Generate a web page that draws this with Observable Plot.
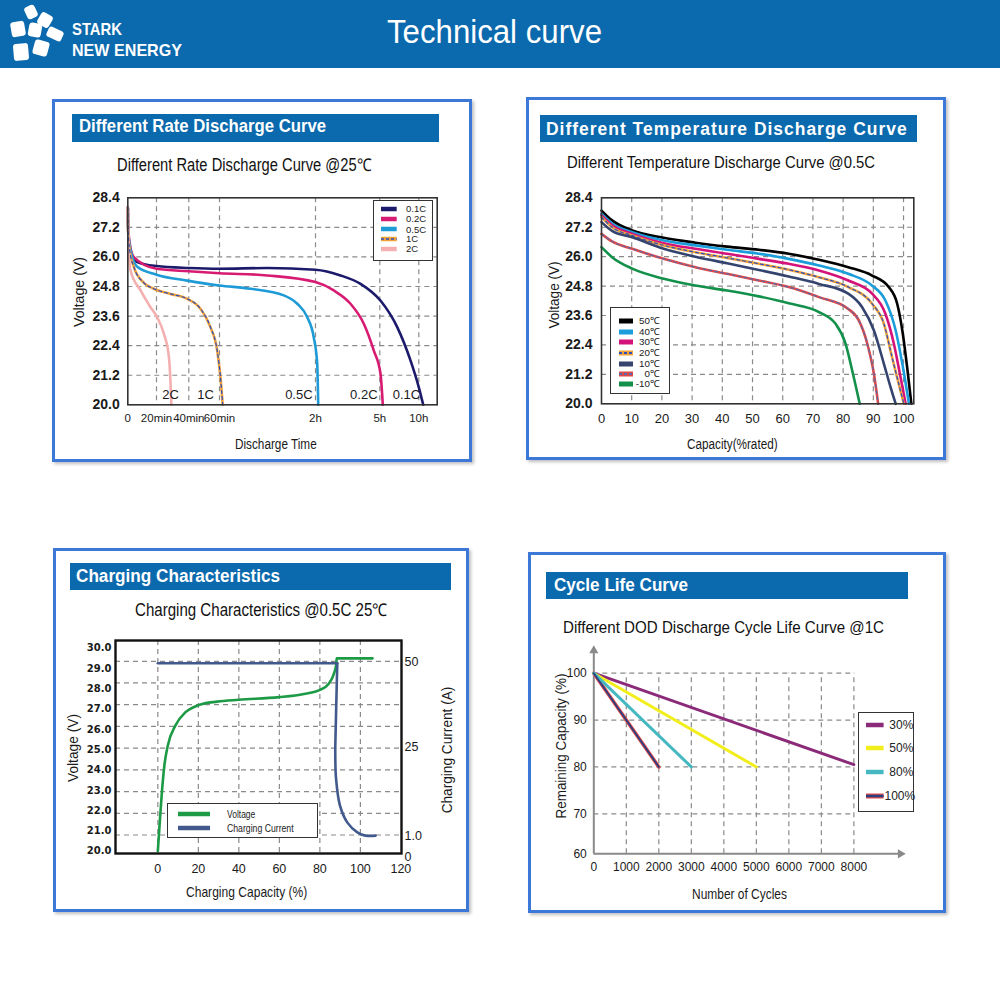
<!DOCTYPE html>
<html><head><meta charset="utf-8">
<script src="https://cdn.jsdelivr.net/npm/d3@7"></script>
<script src="https://cdn.jsdelivr.net/npm/@observablehq/plot@0.6"></script>
<style>
html,body{margin:0;padding:0;background:#fff;}
#page{position:relative;width:1000px;height:1000px;overflow:hidden;font-family:"Liberation Sans",Arial,sans-serif;}
.panel{position:absolute;border:3px solid #3b78d8;box-sizing:border-box;box-shadow:2px 2px 3px rgba(0,0,0,0.25);background:#fff;}
.bar{position:absolute;background:#0b69ad;}
.txt{position:absolute;white-space:nowrap;line-height:1;transform-origin:0 0;}
.legend{position:absolute;background:#fff;border:1.5px solid #333;box-sizing:border-box;}
</style></head><body><div id="page"></div>
<script>
// ---------------- DATA ----------------
// Panel 1: different rate discharge (x = minutes, y = volts)
const rateSeries = ["0.1C","0.2C","0.5C","1C","2C"];
const rate01_min = [0,0.3,1.5,6.6,20,40,60,89.8,120,190,246,305,434,536,600,634];
const rate01_V   = [28.0,27.0,26.3,25.79,25.63,25.55,25.52,25.55,25.48,25.25,24.91,24.23,23.15,21.80,20.71,20.0];
const rate02_min = [0,0.3,1.5,4.2,20,40,60,89.8,120,171.2,218,255.2,283.2,305.4,323];
const rate02_V   = [28.0,27.2,26.5,25.99,25.52,25.42,25.34,25.25,24.98,24.64,24.10,23.29,22.20,21.26,20.0];
const rate05_min = [0,0.3,1.5,6.6,20,39,60,79.4,100.2,108.6,114.8,118.9,124.8,127.6];
const rate05_V   = [28.0,27.1,26.4,25.6,25.28,25.04,24.84,24.71,24.44,24.10,23.56,22.74,21.66,20.0];
const rate1_min  = [0,0.3,1.5,4.2,11.2,18.1,28.7,39,47.6,54.1,58.5,60.6,62.0];
const rate1_V    = [28.0,27.0,26.2,25.6,24.95,24.71,24.5,24.3,23.9,23.15,22.2,21.12,20.0];
const rate2_min  = [0,0.3,1.9,8.9,15.8,20.4,24.6,27.7,28.7,29.2];
const rate2_V    = [28.0,26.9,25.45,24.64,23.96,23.55,22.88,21.93,20.85,20.0];
const rateTickMin = [0,20,40,60,120,300,600];
const rateTickLabels = ["0","20min","40min","60min","2h","5h","10h"];
const rateEndLabels = ["2C","1C","0.5C","0.2C","0.1C"];
const rateEndMin = [28.7,50.9,109.6,255.2,505];
const voltTicks = [20.0,21.2,22.4,23.6,24.8,26.0,27.2,28.4];

// Panel 2: different temperature discharge (x = % rated capacity, y = volts)
const tempSeries = ["50℃","40℃","30℃","20℃","10℃","0℃","-10℃"];
const t50_x = [0,3.5,10.2,20.6,31.1,41.6,52.1,62.0,72.0,81.7,89.6,95.1,97.9,99.6,101.2,102.6];
const t50_V = [27.88,27.48,27.07,26.77,26.57,26.41,26.28,26.12,25.87,25.57,25.23,24.76,24.08,22.99,21.49,20.0];
const t40_x = [0,3.5,10.2,20.6,31.1,41.6,52.1,62.0,72.0,81.7,89.6,94.0,97.4,99.6,101.8];
const t40_V = [27.75,27.35,27.0,26.66,26.46,26.28,26.12,25.91,25.64,25.30,24.82,24.21,22.99,21.63,20.0];
const t30_x = [0,3.5,10.2,20.6,31.1,41.6,52.1,62.0,72.0,81.7,89.6,94.0,96.8,99.0,100.7];
const t30_V = [27.68,27.28,26.93,26.55,26.32,26.12,25.91,25.71,25.44,25.03,24.49,23.67,22.45,21.09,20.0];
const t20_x = [0,3.5,10.2,20.6,31.1,41.6,52.1,62.0,72.0,81.7,89.6,93.5,96.2,98.4,100.1];
const t20_V = [27.61,27.2,26.86,26.46,26.18,25.95,25.71,25.47,25.16,24.76,24.08,23.26,21.90,20.82,20.0];
const t10_x = [0,3.5,10.2,20.6,31.1,41.6,52.1,62.0,72.0,81.7,86.3,90.2,93.5,95.7,97.4];
const t10_V = [27.41,27.05,26.79,26.32,26.0,25.73,25.46,25.19,24.89,24.49,23.94,22.99,21.63,20.68,20.0];
const t0_x  = [0,3.5,10.2,20.6,31.1,41.6,52.1,62.0,72.0,81.7,85.2,88.0,90.2,91.6];
const t0_V  = [26.93,26.62,26.32,25.91,25.57,25.30,25.03,24.76,24.35,23.87,23.40,22.45,21.22,20.0];
const tm10_x = [0,3.5,10.2,20.6,31.1,41.6,52.1,62.0,72.0,77.5,80.8,83.0,85.5];
const tm10_V = [26.39,25.98,25.51,25.10,24.82,24.62,24.38,24.10,23.74,23.26,22.45,21.36,20.0];
const capTicks = [0,10,20,30,40,50,60,70,80,90,100];

// Panel 3: charging characteristics
const chargeCap  = [0,1.0,2.0,3.2,4.9,8.7,13.7,20.2,29.3,40,59.8,72.1,80,84.4,86.9,88.1,88.3,106];
const chargeVolt = [20.0,21.5,22.9,24.2,25.2,26.2,26.85,27.2,27.37,27.46,27.59,27.75,27.95,28.25,28.74,29.23,29.5,29.5];
const currentFlatCap = [0,88.6];
const currentFlatA   = [49.5,49.5];
const currentDropCap = [88.6,88.2,87.8,87.6,88.0,89.9,93.5,98.5,102.6,107.5];
const currentDropA   = [49.5,40,30,23.6,16.4,9.2,4.6,1.9,1.0,1.0];
const chargeVoltTicks = [20,21,22,23,24,25,26,27,28,29,30];
const chargeCapTicks = [0,20,40,60,80,100,120];
const currentTicks = [0,1,25,50];
const currentTickLabels = ["0","1.0","25","50"];
const currentAxisVolt = [19.74,20.77,25.12,29.345];   // where the current axis sits against the voltage axis
const chargeGridVolt = [20.8,21.87,22.94,24.01,25.08,26.15,27.22,28.29,29.35];

// Panel 4: cycle life
const dodSeries = ["30%","50%","80%","100%"];
const dodCycles = [[0,8000],[0,5000],[0,3000],[0,2000]];
const dodCapacity = [[100,80.5],[100,80],[100,80],[100,80]];
const cycleTicks = [0,1000,2000,3000,4000,5000,6000,7000,8000];
const remainTicks = [60,70,80,90,100];

// ---------------- HELPERS ----------------
const page = document.getElementById("page");
const FONT = "'Liberation Sans', Arial, sans-serif";
function div(cls, x0, y0, x1, y1, style = {}) {
  const d = document.createElement("div"); d.className = cls;
  Object.assign(d.style, {left: x0 + "px", top: y0 + "px", width: (x1 - x0) + "px", height: (y1 - y0) + "px"}, style);
  page.appendChild(d); return d;
}
function text(str, o) {
  const d = document.createElement("div"); d.className = "txt"; d.textContent = str;
  d.style.fontSize = o.size + "px";
  if (o.bold) d.style.fontWeight = "bold";
  if (o.ls) d.style.letterSpacing = o.ls;
  if (o.family) d.style.fontFamily = o.family;
  d.style.color = o.color || "#111";
  d.style.top = (o.base - 0.8465 * o.size) + "px";
  page.appendChild(d);
  const w = d.getBoundingClientRect().width;
  if (o.x1 !== undefined) { d.style.left = o.x + "px"; d.style.transform = `scaleX(${(o.x1 - o.x) / w})`; }
  else d.style.left = (o.anchor === "end" ? o.x - w : o.anchor === "middle" ? o.x - w / 2 : o.x) + "px";
  return d;
}
function vtext(str, cx, cy, len, size, color = "#1a1a1a") {
  const d = document.createElement("div"); d.className = "txt"; d.textContent = str;
  d.style.fontSize = size + "px"; d.style.color = color;
  d.style.left = cx + "px"; d.style.top = cy + "px";
  page.appendChild(d);
  const w = d.getBoundingClientRect().width;
  d.style.transform = `rotate(-90deg) scaleX(${len / w}) translate(-50%,-50%)`;
}
function swatch(x0, x1, y, layers) {
  const ns = "http://www.w3.org/2000/svg";
  const s = document.createElementNS(ns, "svg");
  s.setAttribute("width", x1 - x0 + 4); s.setAttribute("height", 12);
  Object.assign(s.style, {position: "absolute", left: (x0 - 2) + "px", top: (y - 6) + "px"});
  for (const l of layers) {
    const ln = document.createElementNS(ns, "line");
    ln.setAttribute("x1", 2); ln.setAttribute("x2", x1 - x0 + 2); ln.setAttribute("y1", 6); ln.setAttribute("y2", 6);
    ln.setAttribute("stroke", l.c); ln.setAttribute("stroke-width", l.w);
    if (l.dash) ln.setAttribute("stroke-dasharray", l.dash);
    s.appendChild(ln);
  }
  page.appendChild(s);
}
function place(svg, L, T) {
  Object.assign(svg.style, {position: "absolute", left: L + "px", top: T + "px", maxWidth: "none"});
  page.appendChild(svg);
}
const rows = (xs, ys) => xs.map((x, i) => ({x, y: ys[i]}));
const grid = {stroke: "#8a8a8a", strokeDasharray: "5,4", strokeWidth: 1.2};

// ---------------- HEADER ----------------
div("bar", 0, 0, 1000, 68, {background: "#0b69ad"});
(function logo() {
  const ns = "http://www.w3.org/2000/svg";
  const s = document.createElementNS(ns, "svg");
  s.setAttribute("width", 70); s.setAttribute("height", 68);
  Object.assign(s.style, {position: "absolute", left: "0px", top: "0px"});
  const tiles = [[31,12,11,13,-25],[45,20,13,13,30],[18,29,14,15,-10],[35,30,13,14,10],[55,34,16,11,25],[21,52,15,17,-5],[41,48,15,15,15]];
  for (const [cx, cy, w, h, r] of tiles) {
    const e = document.createElementNS(ns, "rect");
    e.setAttribute("x", cx - w / 2); e.setAttribute("y", cy - h / 2); e.setAttribute("width", w); e.setAttribute("height", h);
    e.setAttribute("rx", 3); e.setAttribute("fill", "#fff");
    e.setAttribute("transform", `rotate(${r} ${cx} ${cy})`);
    s.appendChild(e);
  }
  page.appendChild(s);
})();
text("STARK", {x: 71.7, x1: 121.7, base: 35, size: 17, bold: true, color: "#fff"});
text("NEW ENERGY", {x: 71.7, x1: 181.7, base: 56, size: 17, bold: true, color: "#fff"});
text("Technical curve", {x: 386.7, x1: 601.7, base: 43.3, size: 33, color: "#fff"});

// ---------------- PANEL FRAMES ----------------
div("panel", 52, 99, 472, 462);
div("panel", 526, 97, 946, 460);
div("panel", 53, 548, 469, 912);
div("panel", 528, 552, 946, 913);
div("bar", 72, 114, 439, 141.7);
div("bar", 540, 115, 917, 142);
div("bar", 70, 563, 451, 590);
div("bar", 546, 572, 908, 599);
text("Different Rate Discharge Curve", {x: 79, x1: 326, base: 133.3, size: 17.5, bold: true, color: "#fff"});
text("Different Temperature Discharge Curve", {x: 545.7, x1: 907.3, base: 135.7, size: 17.5, bold: true, color: "#fff", ls: "1px"});
text("Charging Characteristics", {x: 76, x1: 280, base: 583.3, size: 17.5, bold: true, color: "#fff"});
text("Cycle Life Curve", {x: 554.3, x1: 688.3, base: 591.7, size: 17.5, bold: true, color: "#fff"});
text("Different Rate Discharge Curve @25℃", {x: 117, x1: 371, base: 171.7, size: 17.5});
text("Different Temperature Discharge Curve @0.5C", {x: 567, x1: 875, base: 167.7, size: 16.5});
text("Charging Characteristics @0.5C 25℃", {x: 135, x1: 387, base: 616.7, size: 17.5});
text("Different DOD Discharge Cycle Life Curve @1C", {x: 563, x1: 884, base: 633.3, size: 17});

// axis titles
vtext("Voltage (V)", 79.3, 291.7, 70, 14);
text("Discharge Time", {x: 235, x1: 316.7, base: 449.3, size: 14, color: "#1a1a1a"});
vtext("Voltage (V)", 554.3, 295, 67, 14);
text("Capacity(%rated)", {x: 686.7, x1: 777.3, base: 449.3, size: 14, color: "#1a1a1a"});
vtext("Voltage (V)", 71.7, 747.5, 68, 15);
vtext("Charging Current (A)", 446, 750, 126.7, 15);
text("Charging Capacity (%)", {x: 186, x1: 307.3, base: 896.7, size: 15, color: "#1a1a1a"});
vtext("Remaining Capacity (%)", 560, 745.8, 145, 15);
text("Number of Cycles", {x: 691.7, x1: 786.7, base: 899.3, size: 14, color: "#1a1a1a"});

// ---------------- PANEL 1 ----------------
const rateData = [[rate01_min, rate01_V],[rate02_min, rate02_V],[rate05_min, rate05_V],[rate1_min, rate1_V],[rate2_min, rate2_V]];
const rateColors = ["#1c1a6b","#d81b72","#1e9bd7","#f2a23a","#f4b0b0"];
const rateTickMap = new Map(rateTickMin.map((m, i) => [m, rateTickLabels[i]]));
const plot1 = Plot.plot({
  width: 420, height: 275,
  marginLeft: 75.3, marginRight: 35.3, marginTop: 12.3, marginBottom: 55.7,
  style: {background: "transparent", fontFamily: FONT, color: "#1a1a1a", overflow: "visible"},
  x: {type: "linear", domain: [0,20,40,60,120,300,600,741], range: [75.3,104,136.3,167,263,327.3,366.3,384.7]},
  y: {domain: [20, 28.4]},
  marks: [
    Plot.ruleX(rateTickMin.slice(1), grid),
    Plot.ruleY(voltTicks.slice(1, -1), grid),
    ...rateData.map(([xs, ys], i) => Plot.line(rows(xs, ys), {x: "x", y: "y", stroke: rateColors[i], strokeWidth: 2.6, curve: "monotone-x"})),
    Plot.line(rows(rate1_min, rate1_V), {x: "x", y: "y", stroke: "#2f4fbf", strokeWidth: 1.2, strokeDasharray: "3,3", curve: "monotone-x"}),
    Plot.frame({stroke: "#333", strokeWidth: 1.6}),
    Plot.axisX({ticks: rateTickMin, tickSize: 0, tickPadding: 9, fontSize: 11.5, tickFormat: d => rateTickMap.get(d), label: null}),
    Plot.axisY({ticks: voltTicks, tickSize: 0, tickPadding: 8, fontSize: 14, fontWeight: "bold", tickFormat: d => d.toFixed(1), label: null}),
    Plot.text(rateEndLabels, {x: rateEndMin, text: d => d, frameAnchor: "bottom", dy: -6, fontSize: 13})
  ]
});
place(plot1, 52, 185);

// ---------------- PANEL 2 ----------------
const tempData = [[t50_x,t50_V],[t40_x,t40_V],[t30_x,t30_V],[t20_x,t20_V],[t10_x,t10_V],[t0_x,t0_V],[tm10_x,tm10_V]];
const tempColors = ["#000000","#1b9ddb","#d3137a","#f2a23a","#34446f","#e04848","#13914a"];
const tempDash = [null,null,null,"#2f4fbf",null,"#5a6aa8",null];
const plot2 = Plot.plot({
  width: 420, height: 275,
  marginLeft: 75, marginRight: 32.7, marginTop: 12.3, marginBottom: 56.7,
  style: {background: "transparent", fontFamily: FONT, color: "#1a1a1a", overflow: "visible"},
  x: {domain: [0, 103.4]},
  y: {domain: [20, 28.4]},
  marks: [
    Plot.ruleX(capTicks.slice(1), grid),
    Plot.ruleY(voltTicks.slice(1, -1), grid),
    ...tempData.flatMap(([xs, ys], i) => {
      const m = [Plot.line(rows(xs, ys), {x: "x", y: "y", stroke: tempColors[i], strokeWidth: 2.6, curve: "monotone-x"})];
      if (tempDash[i]) m.push(Plot.line(rows(xs, ys), {x: "x", y: "y", stroke: tempDash[i], strokeWidth: 1.2, strokeDasharray: "3,3", curve: "monotone-x"}));
      return m;
    }),
    Plot.frame({stroke: "#333", strokeWidth: 1.6}),
    Plot.axisX({ticks: capTicks, tickSize: 0, tickPadding: 10, fontSize: 13, tickFormat: d => String(d), label: null}),
    Plot.axisY({ticks: voltTicks, tickSize: 0, tickPadding: 9, fontSize: 14, fontWeight: "bold", tickFormat: d => d.toFixed(1), label: null})
  ]
});
place(plot2, 526, 185);

// ---------------- PANEL 3 ----------------
const c2v = d3.scaleLinear().domain(currentTicks).range(currentAxisVolt);
const currentTickMap = new Map(currentTicks.map((c, i) => [c2v(c), currentTickLabels[i]]));
const plot3 = Plot.plot({
  width: 416, height: 280,
  marginLeft: 62, marginRight: 68, marginTop: 10, marginBottom: 57,
  style: {background: "transparent", fontFamily: FONT, color: "#1a1a1a", overflow: "visible"},
  x: {domain: [-20.9, 120.3]},
  y: {domain: [19.89, 30.38]},
  marks: [
    Plot.ruleX(chargeCapTicks.slice(0, -1), grid),
    Plot.ruleY(chargeGridVolt, grid),
    Plot.line(rows(chargeCap, chargeVolt), {x: "x", y: "y", stroke: "#1d9a46", strokeWidth: 2.6, curve: "monotone-x"}),
    Plot.line(rows(currentFlatCap, currentFlatA.map(c2v)), {x: "x", y: "y", stroke: "#41598c", strokeWidth: 2.6}),
    Plot.line(rows(currentDropCap, currentDropA.map(c2v)), {x: "x", y: "y", stroke: "#41598c", strokeWidth: 2.6, curve: "catmull-rom"}),
    Plot.frame({stroke: "#111", strokeWidth: 2.4}),
    Plot.axisX({ticks: chargeCapTicks, tickSize: 0, tickPadding: 11, fontSize: 12.5, tickFormat: d => String(d), label: null}),
    Plot.axisY({ticks: chargeVoltTicks, tickSize: 0, tickPadding: 4, fontSize: 10, fontWeight: "bold", fontFamily: "'DejaVu Sans', sans-serif", tickFormat: d => d.toFixed(1), label: null}),
    Plot.axisY({anchor: "right", ticks: currentTicks.map(c2v), tickSize: 0, tickPadding: 3, fontSize: 12.5, tickFormat: d => currentTickMap.get(d), label: null})
  ]
});
place(plot3, 53, 630);

// ---------------- PANEL 4 ----------------
const dodColors = ["#8a2a78","#f2ee1c","#45b8c2","#2a3f80"];
const axisGray = "#8a8a8a";
const plot4 = Plot.plot({
  width: 418, height: 270,
  marginLeft: 65.3, marginRight: 41, marginTop: 5, marginBottom: 56.7,
  style: {background: "transparent", fontFamily: FONT, color: "#1a1a1a", overflow: "visible"},
  x: {domain: [0, 9588]},
  y: {type: "linear", domain: [60, 70, 100, 105.9], range: [213.3, 173.3, 32.7, 5]},
  marks: [
    Plot.ruleY(remainTicks.slice(1), {x1: 0, x2: 8000, ...grid}),
    Plot.ruleX(cycleTicks.slice(1), {y1: 60, y2: 100, ...grid}),
    Plot.ruleX([0], {y1: 60, y2: 104.5, stroke: axisGray, strokeWidth: 2}),
    Plot.ruleY([60], {x1: 0, x2: 9400, stroke: axisGray, strokeWidth: 2}),
    Plot.dot([0], {x: d => d, y: 105.9, dy: 5, symbol: "triangle", r: 3.4, fill: axisGray, stroke: "none"}),
    Plot.dot([9588], {x: d => d, y: 60, dx: -5, symbol: "triangle", rotate: 90, r: 3.4, fill: axisGray, stroke: "none"}),
    Plot.line(rows(dodCycles[3], dodCapacity[3]), {x: "x", y: "y", stroke: "#e04848", strokeWidth: 3.6}),
    ...dodCycles.map((xs, i) => Plot.line(rows(xs, dodCapacity[i]), {x: "x", y: "y", stroke: dodColors[i], strokeWidth: i === 3 ? 1.8 : 3})),
    Plot.axisX({ticks: cycleTicks, tickSize: 0, tickPadding: 9, fontSize: 12, tickFormat: d => String(d), label: null}),
    Plot.axisY({ticks: remainTicks, tickSize: 0, tickPadding: 7, fontSize: 12, tickFormat: d => String(d), label: null})
  ]
});
place(plot4, 528, 640);

// ---------------- LEGENDS ----------------
div("legend", 372.7, 200, 432.7, 260.7);
const p1LegY = [208.7, 219, 229.3, 239, 248.7];
rateSeries.forEach((s, i) => {
  const layers = [{c: rateColors[i], w: 4.5}];
  if (s === "1C") layers.push({c: "#2f4fbf", w: 1.5, dash: "3,2"});
  swatch(381, 396.7, p1LegY[i], layers);
  text(s, {x: 406, base: p1LegY[i] + 3.3, size: 9.5, color: "#222"});
});
div("legend", 610, 306.7, 670, 394);
const p2LegY = [320.7, 331.7, 342.3, 353.3, 364, 374, 384];
tempSeries.forEach((s, i) => {
  const layers = [{c: tempColors[i], w: 5}];
  if (tempDash[i]) layers.push({c: tempDash[i], w: 1.8, dash: "3,2"});
  swatch(619.3, 633.3, p2LegY[i], layers);
  text(s, {x: 660, base: p2LegY[i] + 3.4, size: 9.8, color: "#222", anchor: "end"});
});
div("legend", 167.3, 803.3, 318.3, 838.3);
swatch(178, 210, 814, [{c: "#1d9a46", w: 4.5}]);
swatch(178, 210, 828.3, [{c: "#41598c", w: 4.5}]);
text("Voltage", {x: 226.7, x1: 255, base: 817.6, size: 10.5, color: "#222"});
text("Charging Current", {x: 226.7, x1: 293.3, base: 831.9, size: 10.5, color: "#222"});
div("legend", 858.3, 711.7, 914.3, 811.7);
const p4LegY = [725, 748.3, 772.3, 795.7];
dodSeries.forEach((s, i) => {
  const layers = i === 3 ? [{c: "#e04848", w: 5}, {c: dodColors[3], w: 2.5}] : [{c: dodColors[i], w: 4.5}];
  swatch(865.7, 883.3, p4LegY[i], layers);
  text(s, {x: i === 3 ? 884.5 : 889.3, base: p4LegY[i] + 4.3, size: 12, color: "#222"});
});
</script></body></html>
